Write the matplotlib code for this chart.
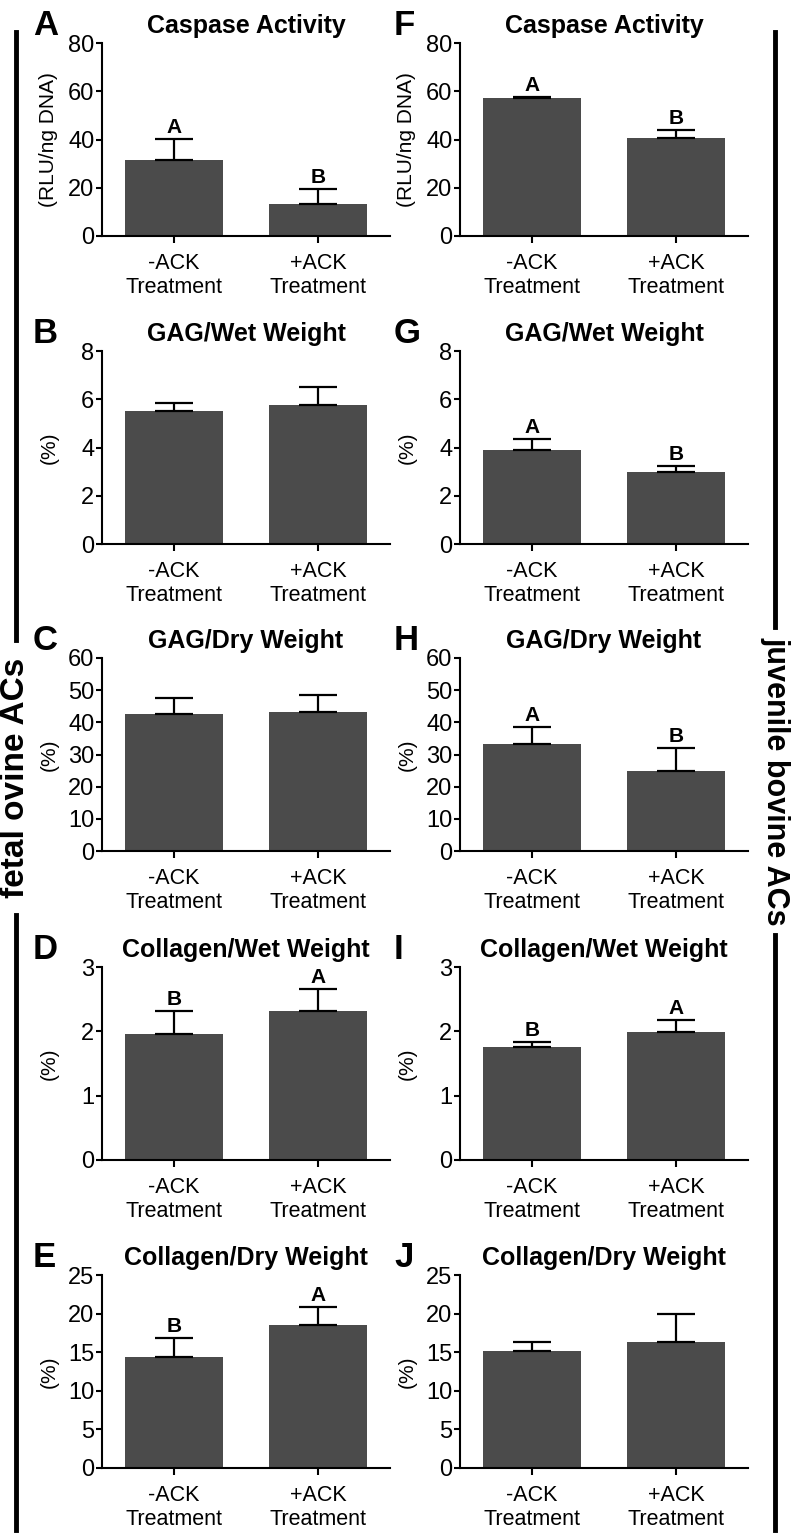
import numpy as np
import matplotlib
matplotlib.use("Agg")
import matplotlib.pyplot as plt
from matplotlib.lines import Line2D

plt.rcParams['font.family'] = ['Liberation Sans', 'DejaVu Sans']

groups = ["-ACK\nTreatment", "+ACK\nTreatment"]

# left column: fetal ovine, right column: juvenile bovine
titles = ["Caspase Activity", "GAG/Wet Weight", "GAG/Dry Weight",
          "Collagen/Wet Weight", "Collagen/Dry Weight"]
ylabels = ["(RLU/ng DNA)", "(%)", "(%)", "(%)", "(%)"]
ymax = [80, 8, 60, 3, 25]
ystep = [20, 2, 10, 1, 5]

fetal_mean = [[31.5, 13.1], [5.5, 5.78], [42.7, 43.1], [1.96, 2.32], [14.4, 18.5]]
fetal_err = [[8.8, 6.3], [0.35, 0.72], [4.9, 5.4], [0.36, 0.34], [2.4, 2.3]]
fetal_sig = [["A", "B"], None, None, ["B", "A"], ["B", "A"]]

juv_mean = [[57.3, 40.6], [3.9, 3.0], [33.4, 24.8], [1.76, 1.99], [15.2, 16.3]]
juv_err = [[0.3, 3.5], [0.45, 0.25], [5.2, 7.3], [0.07, 0.19], [1.1, 3.6]]
juv_sig = [["A", "B"], ["A", "B"], ["A", "B"], ["B", "A"], None]

left_letters = ["A", "B", "C", "D", "E"]
right_letters = ["F", "G", "H", "I", "J"]

W, H = 792, 1534
fig = plt.figure(figsize=(W / 100, H / 100), dpi=100)

row_top = [43, 351, 658, 967, 1275]
ax_h = 193
col_x = [102, 460]
ax_w = 288
bar_color = '#4b4b4b'


def draw(ax, i, means, errs, sig):
    x = np.arange(len(groups))
    ax.bar(x, means, width=0.68, color=bar_color, zorder=2)
    ax.errorbar(x, means, yerr=[np.zeros(len(x)), errs], fmt='none',
                ecolor='black', elinewidth=1.6, capsize=14, capthick=1.6, zorder=3)
    if sig is not None:
        for xi, m, e, s in zip(x, means, errs, sig):
            ax.annotate(s, (xi, m + e), xytext=(0, 1.5), textcoords='offset points',
                        ha='center', va='bottom', fontsize=15, fontweight='bold')
    ax.set_xlim(-0.5, 1.5)
    ax.set_ylim(0, ymax[i])
    ax.set_yticks(np.arange(0, ymax[i] + ystep[i] / 2, ystep[i]))
    ax.set_xticks(x)
    ax.set_xticklabels(groups, fontsize=15.5, linespacing=1.2)
    ax.tick_params(axis='y', labelsize=17, length=4, width=1.5, pad=1.5, direction='out')
    ax.tick_params(axis='x', length=5, width=1.5, pad=7, direction='out')
    for sp in ['top', 'right']:
        ax.spines[sp].set_visible(False)
    for sp in ['left', 'bottom']:
        ax.spines[sp].set_linewidth(1.5)
    ax.set_title(titles[i], fontsize=18, fontweight='bold', pad=7)
    ax.set_ylabel(ylabels[i], fontsize=15, va='center')
    ax.yaxis.set_label_coords(-53 / ax_w, 0.5)


for i in range(5):
    for c in range(2):
        left = col_x[c] / W
        bottom = 1 - (row_top[i] + ax_h) / H
        ax = fig.add_axes([left, bottom, ax_w / W, ax_h / H])
        if c == 0:
            draw(ax, i, fetal_mean[i], fetal_err[i], fetal_sig[i])
            fig.text(33 / W, 1 - (row_top[i] - 8) / H, left_letters[i],
                     fontsize=25, fontweight='bold', va='baseline', ha='left')
        else:
            draw(ax, i, juv_mean[i], juv_err[i], juv_sig[i])
            fig.text(394 / W, 1 - (row_top[i] - 8) / H, right_letters[i],
                     fontsize=25, fontweight='bold', va='baseline', ha='left')

# side labels with bracket lines
lx, rx = 16, 775
fig.add_artist(Line2D([lx / W, lx / W], [1 - 32 / H, 1 - 640 / H], color='black', lw=3.5))
fig.add_artist(Line2D([lx / W, lx / W], [1 - 915 / H, 1 - 1530 / H], color='black', lw=3.5))
fig.text(lx / W, 1 - 778 / H, "fetal ovine ACs", rotation=90, fontsize=24,
         fontweight='bold', ha='center', va='center')

fig.add_artist(Line2D([rx / W, rx / W], [1 - 32 / H, 1 - 627 / H], color='black', lw=3.5))
fig.add_artist(Line2D([rx / W, rx / W], [1 - 935 / H, 1 - 1530 / H], color='black', lw=3.5))
fig.text(rx / W, 1 - 781 / H, "juvenile bovine ACs", rotation=-90, fontsize=22,
         fontweight='bold', ha='center', va='center')

fig.savefig("out.png", dpi=100)
